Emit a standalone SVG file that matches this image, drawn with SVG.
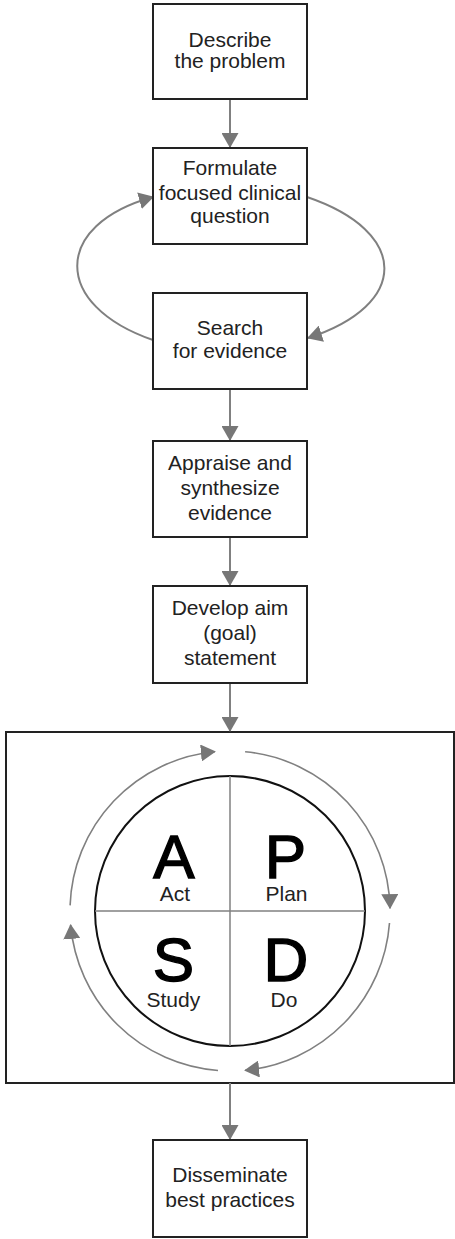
<svg xmlns="http://www.w3.org/2000/svg" width="455" height="1239" viewBox="0 0 455 1239">
<style>
.box{fill:#fff;stroke:#222;stroke-width:2}
.t{font-family:"Liberation Sans",Arial,sans-serif;font-size:21px;fill:#222;text-anchor:middle}
.big{font-family:"Liberation Sans",Arial,sans-serif;font-size:62px;fill:#000;stroke:#000;stroke-width:1.4;text-anchor:middle}
.con{fill:none;stroke:#808080;stroke-width:2}
.cyc{fill:none;stroke:#808080;stroke-width:1.6}
.div{stroke:#808080;stroke-width:1.5}
</style>
<defs>
<marker id="ah" viewBox="0 0 15 17" refX="14" refY="8.5" markerWidth="15" markerHeight="17" markerUnits="userSpaceOnUse" orient="auto">
<path d="M0,0 L15,8.5 L0,17 z" fill="#777"/>
</marker>
</defs>
<rect width="455" height="1239" fill="#fff"/>

<g id="pdsa-frame">
<rect x="6" y="732" width="448" height="351" class="box"/>
</g>

<g id="connectors">
<path class="con" d="M230,99 L230,147" marker-end="url(#ah)"/>
<path class="con" d="M153,340 C52,305 52,225 153,197" marker-end="url(#ah)"/>
<path class="con" d="M307,197 C410,232 410,305 308,338" marker-end="url(#ah)"/>
<path class="con" d="M230,389 L230,440" marker-end="url(#ah)"/>
<path class="con" d="M230,537 L230,585" marker-end="url(#ah)"/>
<path class="con" d="M230,683 L230,731" marker-end="url(#ah)"/>
<path class="con" d="M230,1083 L230,1139" marker-end="url(#ah)"/>
</g>

<g id="n1">
<rect x="153" y="4" width="154" height="95" class="box"/>
<text class="t" x="230" y="47">Describe</text>
<text class="t" x="230" y="68">the problem</text>
</g>
<g id="n2">
<rect x="153" y="148" width="154" height="96" class="box"/>
<text class="t" x="230" y="175">Formulate</text>
<text class="t" x="230" y="200">focused clinical</text>
<text class="t" x="230" y="223">question</text>
</g>
<g id="n3">
<rect x="153" y="293" width="154" height="96" class="box"/>
<text class="t" x="230" y="335">Search</text>
<text class="t" x="230" y="358">for evidence</text>
</g>
<g id="n4">
<rect x="153" y="441" width="154" height="96" class="box"/>
<text class="t" x="230" y="470">Appraise and</text>
<text class="t" x="230" y="495">synthesize</text>
<text class="t" x="230" y="520">evidence</text>
</g>
<g id="n5">
<rect x="153" y="586" width="154" height="97" class="box"/>
<text class="t" x="230" y="615">Develop aim</text>
<text class="t" x="230" y="640">(goal)</text>
<text class="t" x="230" y="665">statement</text>
</g>

<g id="pdsa-cycle">
<circle cx="230" cy="911" r="135" fill="none" stroke="#111" stroke-width="2"/>
<line class="div" x1="230" y1="776" x2="230" y2="1046"/>
<line class="div" x1="95" y1="911" x2="365" y2="911"/>
<path class="cyc" d="M70.1,905.4 A160,160 0 0 1 214.9,751.7" marker-end="url(#ah)"/>
<path class="cyc" d="M245.1,751.7 A160,160 0 0 1 390,908.2" marker-end="url(#ah)"/>
<path class="cyc" d="M389.5,923 A160,160 0 0 1 245.1,1070.3" marker-end="url(#ah)"/>
<path class="cyc" d="M218,1070.5 A160,160 0 0 1 70.6,924.9" marker-end="url(#ah)"/>
</g>
<g id="act">
<text class="big" x="174" y="878">A</text>
<text class="t" x="175" y="901">Act</text>
</g>
<g id="plan">
<text class="big" x="285.5" y="878">P</text>
<text class="t" x="286.5" y="901">Plan</text>
</g>
<g id="study">
<text class="big" x="173.5" y="981">S</text>
<text class="t" x="173.3" y="1006.5">Study</text>
</g>
<g id="do">
<text class="big" x="286" y="981">D</text>
<text class="t" x="284" y="1006.5">Do</text>
</g>

<g id="n6">
<rect x="153" y="1140" width="154" height="97" class="box"/>
<text class="t" x="230" y="1182">Disseminate</text>
<text class="t" x="230" y="1207">best practices</text>
</g>
</svg>
